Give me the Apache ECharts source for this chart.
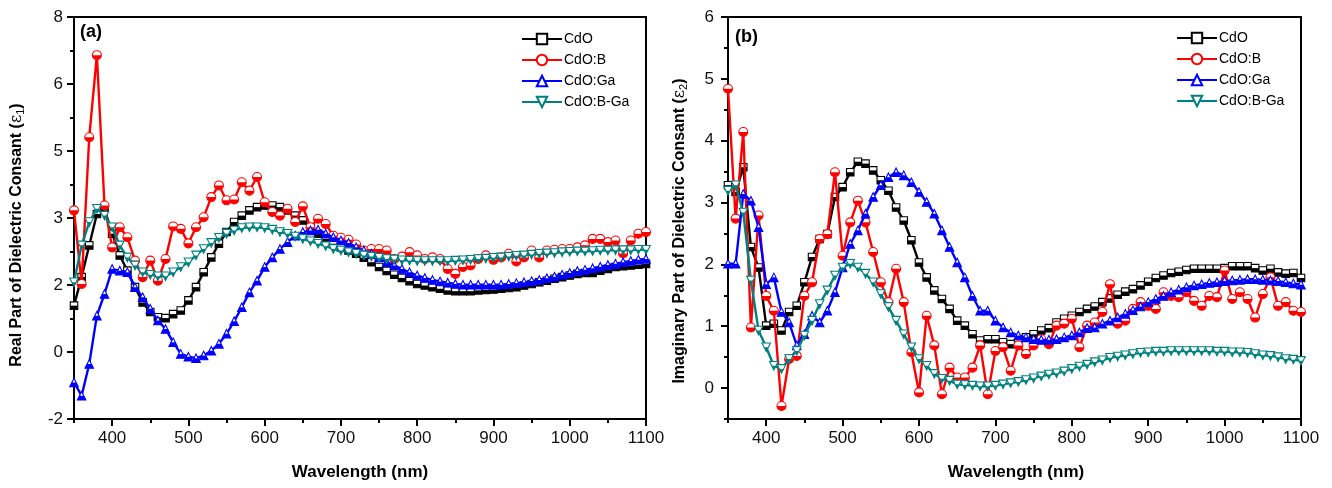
<!DOCTYPE html>
<html><head><meta charset="utf-8">
<script src="https://cdn.jsdelivr.net/npm/echarts@6/dist/echarts.min.js"></script>
<style>html,body{margin:0;padding:0;background:#fff}#c{width:1332px;height:488px}</style>
</head><body><div id="c"></div>
<script>
const wavelength = [350,360,370,380,390,400,410,420,430,440,450,460,470,480,490,500,510,520,530,540,550,560,570,580,590,600,610,620,630,640,650,660,670,680,690,700,710,720,730,740,750,760,770,780,790,800,810,820,830,840,850,860,870,880,890,900,910,920,930,940,950,960,970,980,990,1000,1010,1020,1030,1040,1050,1060,1070,1080,1090,1100];

const seriesNames = ['CdO','CdO:B','CdO:Ga','CdO:B-Ga'];

// Real part (eps1)
const eps1_CdO = [0.82,1.53,2.32,3.10,3.23,2.61,2.07,1.69,1.28,0.90,0.66,0.53,0.51,0.61,0.70,0.95,1.28,1.65,2.02,2.36,2.65,2.90,3.06,3.19,3.27,3.31,3.31,3.27,3.19,3.06,2.94,2.77,2.61,2.48,2.36,2.27,2.19,2.11,2.01,1.90,1.78,1.68,1.59,1.51,1.43,1.36,1.32,1.28,1.24,1.20,1.18,1.18,1.18,1.20,1.21,1.22,1.24,1.26,1.28,1.32,1.36,1.40,1.44,1.49,1.53,1.57,1.61,1.63,1.63,1.69,1.73,1.78,1.80,1.82,1.84,1.86];
const eps1_CdOB = [3.19,1.36,5.01,7.05,3.31,2.27,2.77,2.52,1.94,1.53,1.94,1.44,1.98,2.79,2.73,2.37,2.77,3.02,3.52,3.81,3.44,3.46,3.89,3.68,4.02,3.39,3.15,3.06,3.23,2.90,3.29,2.77,2.98,2.85,2.56,2.51,2.46,2.34,2.19,2.23,2.23,2.19,1.98,2.04,2.15,2.07,1.98,2.02,1.98,1.73,1.61,1.78,1.82,1.98,2.07,1.96,2.02,2.11,1.92,2.02,2.19,2.02,2.19,2.21,2.23,2.23,2.27,2.32,2.48,2.48,2.40,2.44,2.12,2.44,2.61,2.65];
const eps1_CdOGa = [-1.09,-1.42,-0.63,0.57,1.11,1.73,1.69,1.65,1.28,1.03,0.74,0.45,0.24,-0.09,-0.38,-0.45,-0.49,-0.42,-0.30,-0.13,0.12,0.43,0.78,1.15,1.44,1.78,2.02,2.23,2.40,2.56,2.65,2.69,2.71,2.61,2.52,2.44,2.38,2.27,2.19,2.11,2.02,1.90,1.82,1.73,1.65,1.57,1.51,1.46,1.42,1.39,1.36,1.34,1.34,1.34,1.34,1.34,1.34,1.36,1.38,1.40,1.43,1.46,1.50,1.54,1.59,1.63,1.68,1.71,1.75,1.79,1.83,1.86,1.90,1.93,1.96,1.98];
const eps1_CdOBGa = [1.40,2.32,2.90,3.23,3.06,2.77,2.32,2.02,1.82,1.65,1.59,1.55,1.55,1.65,1.78,1.90,2.07,2.23,2.38,2.51,2.61,2.69,2.75,2.77,2.77,2.75,2.71,2.65,2.61,2.54,2.48,2.42,2.36,2.30,2.23,2.19,2.15,2.11,2.07,2.04,2.01,1.98,1.97,1.95,1.94,1.93,1.93,1.93,1.93,1.93,1.94,1.95,1.96,1.98,1.99,2.01,2.02,2.04,2.06,2.07,2.09,2.11,2.12,2.13,2.15,2.16,2.17,2.17,2.18,2.19,2.19,2.20,2.20,2.20,2.21,2.21];

// Imaginary part (eps2)
const eps2_CdO = [3.28,3.17,3.57,2.28,1.95,1.01,1.04,0.93,1.23,1.33,1.71,2.12,2.41,2.49,3.09,3.25,3.49,3.66,3.63,3.52,3.36,3.19,2.92,2.71,2.39,2.03,1.79,1.58,1.44,1.28,1.09,1.01,0.87,0.77,0.79,0.79,0.74,0.71,0.74,0.82,0.87,0.93,0.97,1.06,1.12,1.17,1.23,1.28,1.32,1.39,1.45,1.51,1.56,1.60,1.66,1.72,1.78,1.82,1.86,1.88,1.91,1.93,1.93,1.93,1.93,1.94,1.97,1.97,1.97,1.94,1.90,1.93,1.87,1.85,1.86,1.78];
const eps2_CdOB = [4.84,2.74,4.14,0.98,2.79,1.49,1.25,-0.29,0.47,0.52,1.49,1.71,2.41,2.49,3.49,2.14,2.68,3.03,2.68,2.20,1.71,1.39,1.93,1.39,0.58,-0.07,1.17,0.69,-0.10,0.33,0.17,0.17,0.33,0.69,-0.10,0.60,0.66,0.28,0.69,0.55,0.69,0.79,0.71,1.01,1.04,1.12,0.66,1.01,1.06,1.23,1.68,1.04,1.09,1.28,1.39,1.33,1.28,1.55,1.49,1.47,1.55,1.41,1.33,1.49,1.47,1.90,1.44,1.55,1.44,1.14,1.52,1.79,1.33,1.39,1.25,1.23];
const eps2_CdOGa = [2.01,2.01,3.14,3.03,2.60,1.68,1.79,1.23,1.06,0.69,0.87,1.17,1.06,1.25,1.55,1.95,2.33,2.55,2.82,3.09,3.28,3.41,3.49,3.44,3.33,3.17,3.01,2.82,2.55,2.28,2.03,1.79,1.49,1.25,1.25,1.09,0.98,0.90,0.85,0.82,0.79,0.78,0.78,0.79,0.82,0.85,0.90,0.97,0.98,1.04,1.09,1.14,1.20,1.26,1.32,1.39,1.44,1.49,1.55,1.59,1.63,1.66,1.68,1.70,1.71,1.73,1.74,1.75,1.76,1.76,1.75,1.74,1.73,1.71,1.69,1.67];
const eps2_CdOBGa = [3.19,3.28,2.84,1.74,0.93,0.66,0.36,0.31,0.47,0.60,0.85,1.09,1.36,1.58,1.82,1.95,2.01,1.95,1.85,1.71,1.52,1.31,1.09,0.87,0.66,0.47,0.36,0.23,0.15,0.12,0.06,0.05,0.04,0.03,0.03,0.04,0.06,0.08,0.10,0.13,0.16,0.19,0.22,0.24,0.27,0.31,0.35,0.38,0.42,0.45,0.49,0.51,0.53,0.55,0.57,0.58,0.59,0.59,0.60,0.60,0.60,0.60,0.60,0.60,0.59,0.59,0.58,0.58,0.57,0.55,0.53,0.52,0.50,0.47,0.46,0.44];

// Tick labels
const xMajorTicks = [400,500,600,700,800,900,1000,1100];
const yLabelsA = ['-2','0','2','3','5','6','8'];
const yMajorTicksB = [0,1,2,3,4,5,6];

const colors = ['#000000','#ff0000','#0000ff','#008080'];
const FONT = 'Liberation Sans, Arial, sans-serif';

const symFull = ['rect','circle','triangle','path://M0,0 L10,0 L5,10 Z'];
const symHalf = ['rect','path://M0,0 A5,5 0 0 0 10,0 Z','path://M2.5,0 L7.5,0 L10,5 L0,5 Z','path://M2.5,0 L7.5,0 L5,5 Z'];
const symSize = [7.5,9,8.5,8.5];
const halfSize = [[7.5,3.75],[9,4.5],[8.5,4.25],[4.25,4.25]];
const halfOff = [[0,1.875],[0,2.25],[0,2.125],[0,2.125]];

const A_MIN = -2, A_MAX = 8;
const yMajorTicksA = yLabelsA.map((s,i)=>A_MIN + i*(A_MAX-A_MIN)/(yLabelsA.length-1));

function mkSeries(dataSets, xi, yi){
  const out = [];
  dataSets.forEach((d,k)=>{
    const pts = wavelength.map((w,i)=>[w,d[i]]);
    out.push({
      name: seriesNames[k], type:'line', xAxisIndex:xi, yAxisIndex:yi, data:pts,
      symbol: symFull[k], symbolSize: symSize[k], showAllSymbol:true,
      lineStyle:{color:colors[k], width:2.4},
      itemStyle:{color:'#ffffff', borderColor:colors[k], borderWidth:1.1},
      emphasis:{disabled:true}, z: 2 + k*2, silent:true
    });
    out.push({
      name: seriesNames[k]+' half', type:'scatter', xAxisIndex:xi, yAxisIndex:yi, data:pts,
      symbol: symHalf[k], symbolSize: halfSize[k], symbolOffset: halfOff[k],
      itemStyle:{color:colors[k], borderWidth:0, opacity:1},
      emphasis:{disabled:true}, z: 3 + k*2, silent:true
    });
  });
  return out;
}

const axisLineStyle = {color:'#000', width:2};
function xAxes(gi){
  return [
    {type:'value', gridIndex:gi, position:'bottom', min:350, max:1100, interval:50,
     axisLine:{show:true, onZero:false, lineStyle:axisLineStyle}, axisTick:{show:true, length:4, lineStyle:{color:'#000', width:2}},
     axisLabel:{show:false}, splitLine:{show:false}},
    {type:'value', gridIndex:gi, position:'bottom', min:350, max:1100,
     axisLine:{show:false, onZero:false}, axisTick:{show:true, customValues:xMajorTicks, length:7, lineStyle:{color:'#000', width:2}},
     axisLabel:{show:true, customValues:xMajorTicks, fontSize:17, color:'#111', fontFamily:FONT, margin:11,
       formatter:function(v){ return String(Math.round(v)); }},
     splitLine:{show:false}}
  ];
}

const option = {
  backgroundColor:'#ffffff',
  animation:false,
  grid:[
    {left:74, top:17, width:572, height:402, show:true, borderColor:'#000', borderWidth:2, containLabel:false},
    {left:728, top:17, width:573, height:402, show:true, borderColor:'#000', borderWidth:2, containLabel:false}
  ],
  xAxis: [].concat(xAxes(0), xAxes(1)),
  yAxis: [
    {type:'value', gridIndex:0, position:'left', min:A_MIN, max:A_MAX, interval:(A_MAX-A_MIN)/12,
     axisLine:{show:true, onZero:false, lineStyle:axisLineStyle}, axisTick:{show:true, length:4, lineStyle:{color:'#000', width:2}},
     axisLabel:{show:false}, splitLine:{show:false}},
    {type:'value', gridIndex:0, position:'left', min:A_MIN, max:A_MAX,
     axisLine:{show:false, onZero:false}, axisTick:{show:true, customValues:yMajorTicksA, length:7, lineStyle:{color:'#000', width:2}},
     axisLabel:{show:true, customValues:yMajorTicksA, fontSize:17, color:'#111', fontFamily:FONT, margin:11,
       formatter:function(v){ let best=0, bd=1e9; yMajorTicksA.forEach((t,i)=>{const d=Math.abs(t-v); if(d<bd){bd=d;best=i;}}); return yLabelsA[best]; }},
     splitLine:{show:false}},
    {type:'value', gridIndex:1, position:'left', min:-0.5, max:6, interval:0.5,
     axisLine:{show:true, onZero:false, lineStyle:axisLineStyle}, axisTick:{show:true, length:4, lineStyle:{color:'#000', width:2}},
     axisLabel:{show:false}, splitLine:{show:false}},
    {type:'value', gridIndex:1, position:'left', min:-0.5, max:6,
     axisLine:{show:false, onZero:false}, axisTick:{show:true, customValues:yMajorTicksB, length:7, lineStyle:{color:'#000', width:2}},
     axisLabel:{show:true, customValues:yMajorTicksB, fontSize:17, color:'#111', fontFamily:FONT, margin:14},
     splitLine:{show:false}}
  ],
  legend:[
    {data:seriesNames, orient:'vertical', left:516, top:27, itemWidth:40, itemHeight:13, itemGap:7,
     textStyle:{fontSize:14, color:'#000', fontFamily:FONT, padding:[0,0,0,-3]}, selectedMode:false},
    {data:seriesNames, orient:'vertical', left:1171, top:26, itemWidth:40, itemHeight:13, itemGap:7,
     textStyle:{fontSize:14, color:'#000', fontFamily:FONT, padding:[0,0,0,-3]}, selectedMode:false}
  ],
  graphic:[
    {type:'text', left:80, top:23, style:{text:'(a)', font:'bold 18px '+FONT, fill:'#000'}},
    {type:'text', left:735, top:28, style:{text:'(b)', font:'bold 18px '+FONT, fill:'#000'}},
    {type:'text', x:360, y:472, style:{text:'Wavelength (nm)', font:'bold 17px '+FONT, fill:'#000', align:'center', verticalAlign:'middle'}},
    {type:'text', x:1016, y:472, style:{text:'Wavelength (nm)', font:'bold 17px '+FONT, fill:'#000', align:'center', verticalAlign:'middle'}},
    {type:'text', x:17, y:235, rotation:Math.PI/2,
     style:{text:'{b|Real Part of Dielectric Consant (}{e|ε}{s|1}{b|)}', align:'center', verticalAlign:'middle',
       rich:{b:{font:'bold 16px '+FONT, fill:'#000'}, e:{font:'16px DejaVu Serif', fill:'#000'}, s:{font:'11px '+FONT, fill:'#000', padding:[8,0,0,0]}}}},
    {type:'text', x:680, y:231, rotation:Math.PI/2,
     style:{text:'{b|Imaginary Part of Dielectric Consant (}{e|ε}{s|2}{b|)}', align:'center', verticalAlign:'middle',
       rich:{b:{font:'bold 16px '+FONT, fill:'#000'}, e:{font:'16px DejaVu Serif', fill:'#000'}, s:{font:'11px '+FONT, fill:'#000', padding:[8,0,0,0]}}}}
  ],
  series: [].concat(
    mkSeries([eps1_CdO, eps1_CdOB, eps1_CdOGa, eps1_CdOBGa], 0, 0),
    mkSeries([eps2_CdO, eps2_CdOB, eps2_CdOGa, eps2_CdOBGa], 2, 2)
  )
};

const chart = echarts.init(document.getElementById('c'), null, {renderer:'canvas'});
chart.setOption(option);
</script>
</body></html>
